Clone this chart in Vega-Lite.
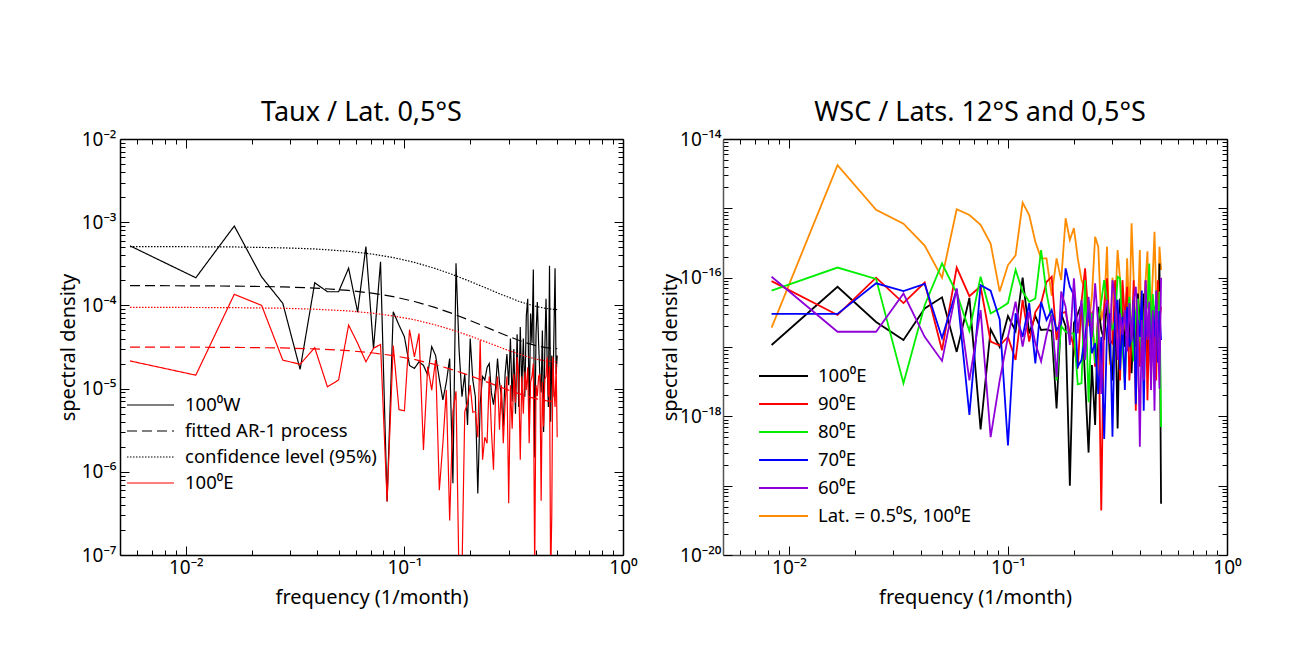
{
  "$schema": "https://vega.github.io/schema/vega-lite/v6.json",
  "background": "white",
  "padding": {"left": 58, "top": 99, "right": 5, "bottom": 5},
  "spacing": 100,
  "bounds": "flush",
  "config": {
    "font": "Noto Sans",
    "view": {"stroke": null},
    "axis": {"labelFont": "Noto Sans", "titleFont": "Noto Sans", "labelColor": "black", "titleColor": "black", "titleFontWeight": "normal", "grid": false, "domainColor": "black", "domainWidth": 1.5, "tickColor": "black", "tickWidth": 1, "labelFontSize": 19, "titleFontSize": 20, "labelFlush": false, "labelOverlap": false, "labelBound": false},
    "legend": {"labelFont": "Noto Sans", "labelColor": "black"},
    "title": {"font": "Noto Sans", "fontWeight": "normal", "color": "black", "fontSize": 27}
  },
  "datasets": {
    "left": [
      {"s":"100⁰W","f":0.005556,"v":5.2e-4},{"s":"100⁰W","f":0.011111,"v":2.15e-4},{"s":"100⁰W","f":0.016667,"v":9.0e-4},{"s":"100⁰W","f":0.022222,"v":2.2e-4},{"s":"100⁰W","f":0.027778,"v":1.06e-4},{"s":"100⁰W","f":0.033333,"v":1.7e-5},{"s":"100⁰W","f":0.038889,"v":1.87e-4},{"s":"100⁰W","f":0.044444,"v":1.46e-4},{"s":"100⁰W","f":0.05,"v":1.46e-4},{"s":"100⁰W","f":0.055556,"v":2.8e-4},
      {"s":"100⁰W","f":0.061111,"v":8.3e-5},{"s":"100⁰W","f":0.066667,"v":5.1e-4},{"s":"100⁰W","f":0.072222,"v":3.0e-5},{"s":"100⁰W","f":0.077778,"v":3.35e-4},{"s":"100⁰W","f":0.083333,"v":4.4e-7},{"s":"100⁰W","f":0.088889,"v":8.4e-5},{"s":"100⁰W","f":0.094444,"v":5.8e-5},{"s":"100⁰W","f":0.1,"v":4.2e-5},{"s":"100⁰W","f":0.105556,"v":1.9e-5},{"s":"100⁰W","f":0.111111,"v":1.75e-5},
      {"s":"100⁰W","f":0.116667,"v":2.1e-5},{"s":"100⁰W","f":0.122222,"v":1.9e-5},{"s":"100⁰W","f":0.127778,"v":1.46e-5},{"s":"100⁰W","f":0.133333,"v":3.2e-5},{"s":"100⁰W","f":0.138889,"v":2.5e-5},{"s":"100⁰W","f":0.144444,"v":1.3e-5},{"s":"100⁰W","f":0.15,"v":7.3e-6},{"s":"100⁰W","f":0.155556,"v":1.2e-5},{"s":"100⁰W","f":0.161111,"v":2.3e-5},{"s":"100⁰W","f":0.166667,"v":7.3e-7},
      {"s":"100⁰W","f":0.172222,"v":3.2e-4},{"s":"100⁰W","f":0.177778,"v":3.0e-5},{"s":"100⁰W","f":0.183333,"v":8e-6},{"s":"100⁰W","f":0.188889,"v":1.5e-5},{"s":"100⁰W","f":0.194444,"v":3.65e-6},{"s":"100⁰W","f":0.2,"v":4.0e-5},{"s":"100⁰W","f":0.205556,"v":1.27e-5},{"s":"100⁰W","f":0.211111,"v":8e-6},{"s":"100⁰W","f":0.216667,"v":5.5e-7},{"s":"100⁰W","f":0.222222,"v":6.7e-6},
      {"s":"100⁰W","f":0.227778,"v":1.4e-5},{"s":"100⁰W","f":0.233333,"v":1.27e-5},{"s":"100⁰W","f":0.238889,"v":1.8e-5},{"s":"100⁰W","f":0.244444,"v":2.0e-5},{"s":"100⁰W","f":0.25,"v":9e-6},{"s":"100⁰W","f":0.255556,"v":6.4e-6},{"s":"100⁰W","f":0.261111,"v":1.0e-5},{"s":"100⁰W","f":0.266667,"v":2.3e-5},{"s":"100⁰W","f":0.272222,"v":1.2e-5},{"s":"100⁰W","f":0.277778,"v":8e-6},
      {"s":"100⁰W","f":0.283333,"v":3.5e-6},{"s":"100⁰W","f":0.288889,"v":1.5e-5},{"s":"100⁰W","f":0.294444,"v":2.6e-5},{"s":"100⁰W","f":0.3,"v":1.1e-5},{"s":"100⁰W","f":0.305556,"v":4e-5},{"s":"100⁰W","f":0.311111,"v":7e-6},{"s":"100⁰W","f":0.316667,"v":3.0e-5},{"s":"100⁰W","f":0.322222,"v":5e-6},{"s":"100⁰W","f":0.327778,"v":4.5e-5},{"s":"100⁰W","f":0.333333,"v":6e-6},
      {"s":"100⁰W","f":0.338889,"v":5.5e-5},{"s":"100⁰W","f":0.344444,"v":1.0e-5},{"s":"100⁰W","f":0.35,"v":4.0e-5},{"s":"100⁰W","f":0.355556,"v":8e-6},{"s":"100⁰W","f":0.361111,"v":7.5e-5},{"s":"100⁰W","f":0.366667,"v":1.2e-4},{"s":"100⁰W","f":0.372222,"v":5e-6},{"s":"100⁰W","f":0.377778,"v":8e-5},{"s":"100⁰W","f":0.383333,"v":3.5e-5},{"s":"100⁰W","f":0.388889,"v":2.7e-4},
      {"s":"100⁰W","f":0.394444,"v":1.5e-6},{"s":"100⁰W","f":0.4,"v":4.5e-5},{"s":"100⁰W","f":0.405556,"v":1.1e-4},{"s":"100⁰W","f":0.411111,"v":3.5e-5},{"s":"100⁰W","f":0.416667,"v":1.4e-5},{"s":"100⁰W","f":0.422222,"v":9e-6},{"s":"100⁰W","f":0.427778,"v":5e-5},{"s":"100⁰W","f":0.433333,"v":3e-6},{"s":"100⁰W","f":0.438889,"v":3.0e-5},{"s":"100⁰W","f":0.444444,"v":1.2e-4},
      {"s":"100⁰W","f":0.45,"v":2e-5},{"s":"100⁰W","f":0.455556,"v":6e-6},{"s":"100⁰W","f":0.461111,"v":3.0e-4},{"s":"100⁰W","f":0.466667,"v":4e-6},{"s":"100⁰W","f":0.472222,"v":2.5e-5},{"s":"100⁰W","f":0.477778,"v":8e-6},{"s":"100⁰W","f":0.483333,"v":5e-5},{"s":"100⁰W","f":0.488889,"v":2.8e-4},{"s":"100⁰W","f":0.494444,"v":1.5e-5},{"s":"100⁰W","f":0.5,"v":2.5e-5},

      {"s":"fitted AR-1 process","f":0.005556,"v":1.727e-4},{"s":"fitted AR-1 process","f":0.011111,"v":1.72e-4},{"s":"fitted AR-1 process","f":0.016667,"v":1.707e-4},{"s":"fitted AR-1 process","f":0.027778,"v":1.669e-4},{"s":"fitted AR-1 process","f":0.038889,"v":1.616e-4},{"s":"fitted AR-1 process","f":0.055556,"v":1.514e-4},{"s":"fitted AR-1 process","f":0.072222,"v":1.396e-4},{"s":"fitted AR-1 process","f":0.088889,"v":1.274e-4},{"s":"fitted AR-1 process","f":0.111111,"v":1.115e-4},{"s":"fitted AR-1 process","f":0.138889,"v":9.39e-5},{"s":"fitted AR-1 process","f":0.166667,"v":7.94e-5},{"s":"fitted AR-1 process","f":0.194444,"v":6.78e-5},{"s":"fitted AR-1 process","f":0.222222,"v":5.87e-5},{"s":"fitted AR-1 process","f":0.25,"v":5.15e-5},{"s":"fitted AR-1 process","f":0.277778,"v":4.59e-5},{"s":"fitted AR-1 process","f":0.305556,"v":4.16e-5},{"s":"fitted AR-1 process","f":0.333333,"v":3.81e-5},{"s":"fitted AR-1 process","f":0.361111,"v":3.55e-5},{"s":"fitted AR-1 process","f":0.388889,"v":3.35e-5},{"s":"fitted AR-1 process","f":0.416667,"v":3.21e-5},{"s":"fitted AR-1 process","f":0.444444,"v":3.11e-5},{"s":"fitted AR-1 process","f":0.472222,"v":3.05e-5},{"s":"fitted AR-1 process","f":0.5,"v":3.03e-5},

      {"s":"confidence level (95%)","f":0.005556,"v":5.09e-4},{"s":"confidence level (95%)","f":0.011111,"v":5.07e-4},{"s":"confidence level (95%)","f":0.016667,"v":5.04e-4},{"s":"confidence level (95%)","f":0.027778,"v":4.92e-4},{"s":"confidence level (95%)","f":0.038889,"v":4.77e-4},{"s":"confidence level (95%)","f":0.055556,"v":4.47e-4},{"s":"confidence level (95%)","f":0.072222,"v":4.12e-4},{"s":"confidence level (95%)","f":0.088889,"v":3.76e-4},{"s":"confidence level (95%)","f":0.111111,"v":3.29e-4},{"s":"confidence level (95%)","f":0.138889,"v":2.77e-4},{"s":"confidence level (95%)","f":0.166667,"v":2.34e-4},{"s":"confidence level (95%)","f":0.194444,"v":2.0e-4},{"s":"confidence level (95%)","f":0.222222,"v":1.73e-4},{"s":"confidence level (95%)","f":0.25,"v":1.52e-4},{"s":"confidence level (95%)","f":0.277778,"v":1.35e-4},{"s":"confidence level (95%)","f":0.305556,"v":1.23e-4},{"s":"confidence level (95%)","f":0.333333,"v":1.12e-4},{"s":"confidence level (95%)","f":0.361111,"v":1.05e-4},{"s":"confidence level (95%)","f":0.388889,"v":9.9e-5},{"s":"confidence level (95%)","f":0.416667,"v":9.5e-5},{"s":"confidence level (95%)","f":0.444444,"v":9.2e-5},{"s":"confidence level (95%)","f":0.472222,"v":9.0e-5},{"s":"confidence level (95%)","f":0.5,"v":8.9e-5},

      {"s":"\u00a0100⁰E","f":0.005556,"v":2.15e-5},{"s":"\u00a0100⁰E","f":0.011111,"v":1.45e-5},{"s":"\u00a0100⁰E","f":0.016667,"v":1.36e-4},{"s":"\u00a0100⁰E","f":0.022222,"v":1.0e-4},{"s":"\u00a0100⁰E","f":0.027778,"v":2.2e-5},{"s":"\u00a0100⁰E","f":0.033333,"v":1.96e-5},{"s":"\u00a0100⁰E","f":0.038889,"v":3.1e-5},{"s":"\u00a0100⁰E","f":0.044444,"v":1.05e-5},{"s":"\u00a0100⁰E","f":0.05,"v":1.27e-5},{"s":"\u00a0100⁰E","f":0.055556,"v":5.8e-5},
      {"s":"\u00a0100⁰E","f":0.061111,"v":3.5e-5},{"s":"\u00a0100⁰E","f":0.066667,"v":2.1e-5},{"s":"\u00a0100⁰E","f":0.072222,"v":3.05e-5},{"s":"\u00a0100⁰E","f":0.077778,"v":3.4e-5},{"s":"\u00a0100⁰E","f":0.083333,"v":4.4e-7},{"s":"\u00a0100⁰E","f":0.088889,"v":3.3e-5},{"s":"\u00a0100⁰E","f":0.094444,"v":5.6e-6},{"s":"\u00a0100⁰E","f":0.1,"v":5.4e-6},{"s":"\u00a0100⁰E","f":0.105556,"v":5.1e-5},{"s":"\u00a0100⁰E","f":0.111111,"v":2.4e-5},
      {"s":"\u00a0100⁰E","f":0.116667,"v":4.6e-5},{"s":"\u00a0100⁰E","f":0.122222,"v":1.83e-6},{"s":"\u00a0100⁰E","f":0.127778,"v":1.84e-5},{"s":"\u00a0100⁰E","f":0.133333,"v":9.6e-6},{"s":"\u00a0100⁰E","f":0.138889,"v":2.2e-5},{"s":"\u00a0100⁰E","f":0.144444,"v":6.0e-7},{"s":"\u00a0100⁰E","f":0.15,"v":2.2e-6},{"s":"\u00a0100⁰E","f":0.155556,"v":9.6e-6},{"s":"\u00a0100⁰E","f":0.161111,"v":2.6e-7},{"s":"\u00a0100⁰E","f":0.166667,"v":5.3e-6},
      {"s":"\u00a0100⁰E","f":0.172222,"v":9.3e-6},{"s":"\u00a0100⁰E","f":0.177778,"v":5e-8},{"s":"\u00a0100⁰E","f":0.183333,"v":6e-8},{"s":"\u00a0100⁰E","f":0.188889,"v":5.3e-6},{"s":"\u00a0100⁰E","f":0.194444,"v":6.7e-6},{"s":"\u00a0100⁰E","f":0.2,"v":1.1e-5},{"s":"\u00a0100⁰E","f":0.205556,"v":5.2e-6},{"s":"\u00a0100⁰E","f":0.211111,"v":5.3e-6},{"s":"\u00a0100⁰E","f":0.216667,"v":2.6e-6},{"s":"\u00a0100⁰E","f":0.222222,"v":3.8e-5},
      {"s":"\u00a0100⁰E","f":0.227778,"v":1.4e-6},{"s":"\u00a0100⁰E","f":0.233333,"v":2.6e-6},{"s":"\u00a0100⁰E","f":0.238889,"v":2.2e-6},{"s":"\u00a0100⁰E","f":0.244444,"v":1.4e-5},{"s":"\u00a0100⁰E","f":0.25,"v":3.2e-6},{"s":"\u00a0100⁰E","f":0.255556,"v":1.06e-6},{"s":"\u00a0100⁰E","f":0.261111,"v":8.1e-6},{"s":"\u00a0100⁰E","f":0.266667,"v":1.4e-5},{"s":"\u00a0100⁰E","f":0.272222,"v":3.2e-6},{"s":"\u00a0100⁰E","f":0.277778,"v":1.1e-5},
      {"s":"\u00a0100⁰E","f":0.283333,"v":2.2e-6},{"s":"\u00a0100⁰E","f":0.288889,"v":6.7e-6},{"s":"\u00a0100⁰E","f":0.294444,"v":1.4e-5},{"s":"\u00a0100⁰E","f":0.3,"v":4.2e-7},{"s":"\u00a0100⁰E","f":0.305556,"v":1.1e-5},{"s":"\u00a0100⁰E","f":0.311111,"v":3.3e-6},{"s":"\u00a0100⁰E","f":0.316667,"v":1.5e-5},{"s":"\u00a0100⁰E","f":0.322222,"v":6.7e-6},{"s":"\u00a0100⁰E","f":0.327778,"v":2.4e-5},{"s":"\u00a0100⁰E","f":0.333333,"v":1.4e-5},
      {"s":"\u00a0100⁰E","f":0.338889,"v":1.4e-6},{"s":"\u00a0100⁰E","f":0.344444,"v":1.4e-5},{"s":"\u00a0100⁰E","f":0.35,"v":5e-6},{"s":"\u00a0100⁰E","f":0.355556,"v":1.6e-5},{"s":"\u00a0100⁰E","f":0.361111,"v":9.6e-6},{"s":"\u00a0100⁰E","f":0.366667,"v":1.8e-5},{"s":"\u00a0100⁰E","f":0.372222,"v":2.2e-6},{"s":"\u00a0100⁰E","f":0.377778,"v":1.2e-5},{"s":"\u00a0100⁰E","f":0.383333,"v":1.4e-5},{"s":"\u00a0100⁰E","f":0.388889,"v":2.0e-5},
      {"s":"\u00a0100⁰E","f":0.394444,"v":6e-8},{"s":"\u00a0100⁰E","f":0.4,"v":1.1e-5},{"s":"\u00a0100⁰E","f":0.405556,"v":8.1e-6},{"s":"\u00a0100⁰E","f":0.411111,"v":1.4e-5},{"s":"\u00a0100⁰E","f":0.416667,"v":1.5e-5},{"s":"\u00a0100⁰E","f":0.422222,"v":4.5e-7},{"s":"\u00a0100⁰E","f":0.427778,"v":1.2e-5},{"s":"\u00a0100⁰E","f":0.433333,"v":3.5e-6},{"s":"\u00a0100⁰E","f":0.438889,"v":1.3e-5},{"s":"\u00a0100⁰E","f":0.444444,"v":1.4e-5},
      {"s":"\u00a0100⁰E","f":0.45,"v":2.4e-5},{"s":"\u00a0100⁰E","f":0.455556,"v":8e-6},{"s":"\u00a0100⁰E","f":0.461111,"v":1.84e-5},{"s":"\u00a0100⁰E","f":0.466667,"v":5e-8},{"s":"\u00a0100⁰E","f":0.472222,"v":3e-7},{"s":"\u00a0100⁰E","f":0.477778,"v":2.4e-5},{"s":"\u00a0100⁰E","f":0.483333,"v":1.0e-5},{"s":"\u00a0100⁰E","f":0.488889,"v":6e-6},{"s":"\u00a0100⁰E","f":0.494444,"v":2.0e-5},{"s":"\u00a0100⁰E","f":0.5,"v":2.6e-6},

      {"s":"AR-1 (100⁰E)","f":0.005556,"v":3.156e-5},{"s":"AR-1 (100⁰E)","f":0.011111,"v":3.145e-5},{"s":"AR-1 (100⁰E)","f":0.016667,"v":3.13e-5},{"s":"AR-1 (100⁰E)","f":0.027778,"v":3.08e-5},{"s":"AR-1 (100⁰E)","f":0.038889,"v":3.0e-5},{"s":"AR-1 (100⁰E)","f":0.055556,"v":2.86e-5},{"s":"AR-1 (100⁰E)","f":0.072222,"v":2.68e-5},{"s":"AR-1 (100⁰E)","f":0.088889,"v":2.49e-5},{"s":"AR-1 (100⁰E)","f":0.111111,"v":2.24e-5},{"s":"AR-1 (100⁰E)","f":0.138889,"v":1.94e-5},{"s":"AR-1 (100⁰E)","f":0.166667,"v":1.68e-5},{"s":"AR-1 (100⁰E)","f":0.194444,"v":1.465e-5},{"s":"AR-1 (100⁰E)","f":0.222222,"v":1.288e-5},{"s":"AR-1 (100⁰E)","f":0.25,"v":1.146e-5},{"s":"AR-1 (100⁰E)","f":0.277778,"v":1.031e-5},{"s":"AR-1 (100⁰E)","f":0.305556,"v":9.4e-6},{"s":"AR-1 (100⁰E)","f":0.333333,"v":8.69e-6},{"s":"AR-1 (100⁰E)","f":0.361111,"v":8.13e-6},{"s":"AR-1 (100⁰E)","f":0.388889,"v":7.7e-6},{"s":"AR-1 (100⁰E)","f":0.416667,"v":7.38e-6},{"s":"AR-1 (100⁰E)","f":0.444444,"v":7.16e-6},{"s":"AR-1 (100⁰E)","f":0.472222,"v":7.04e-6},{"s":"AR-1 (100⁰E)","f":0.5,"v":7.0e-6},

      {"s":"CL (100⁰E)","f":0.005556,"v":9.47e-5},{"s":"CL (100⁰E)","f":0.011111,"v":9.44e-5},{"s":"CL (100⁰E)","f":0.016667,"v":9.39e-5},{"s":"CL (100⁰E)","f":0.027778,"v":9.24e-5},{"s":"CL (100⁰E)","f":0.038889,"v":9.0e-5},{"s":"CL (100⁰E)","f":0.055556,"v":8.58e-5},{"s":"CL (100⁰E)","f":0.072222,"v":8.04e-5},{"s":"CL (100⁰E)","f":0.088889,"v":7.47e-5},{"s":"CL (100⁰E)","f":0.111111,"v":6.72e-5},{"s":"CL (100⁰E)","f":0.138889,"v":5.82e-5},{"s":"CL (100⁰E)","f":0.166667,"v":5.04e-5},{"s":"CL (100⁰E)","f":0.194444,"v":4.4e-5},{"s":"CL (100⁰E)","f":0.222222,"v":3.86e-5},{"s":"CL (100⁰E)","f":0.25,"v":3.44e-5},{"s":"CL (100⁰E)","f":0.277778,"v":3.09e-5},{"s":"CL (100⁰E)","f":0.305556,"v":2.82e-5},{"s":"CL (100⁰E)","f":0.333333,"v":2.61e-5},{"s":"CL (100⁰E)","f":0.361111,"v":2.44e-5},{"s":"CL (100⁰E)","f":0.388889,"v":2.31e-5},{"s":"CL (100⁰E)","f":0.416667,"v":2.21e-5},{"s":"CL (100⁰E)","f":0.444444,"v":2.15e-5},{"s":"CL (100⁰E)","f":0.472222,"v":2.11e-5},{"s":"CL (100⁰E)","f":0.5,"v":2.1e-5}
    ],
    "right": [
      {"s":"Lat. = 0.5⁰S, 100⁰E","f":0.008333,"v":1.9e-17},{"s":"Lat. = 0.5⁰S, 100⁰E","f":0.016667,"v":4.2e-15},{"s":"Lat. = 0.5⁰S, 100⁰E","f":0.025,"v":9.5e-16},{"s":"Lat. = 0.5⁰S, 100⁰E","f":0.033333,"v":6.0e-16},{"s":"Lat. = 0.5⁰S, 100⁰E","f":0.041667,"v":2.9e-16},{"s":"Lat. = 0.5⁰S, 100⁰E","f":0.05,"v":1.0e-16},{"s":"Lat. = 0.5⁰S, 100⁰E","f":0.058333,"v":9.7e-16},{"s":"Lat. = 0.5⁰S, 100⁰E","f":0.066667,"v":8.0e-16},{"s":"Lat. = 0.5⁰S, 100⁰E","f":0.075,"v":5.8e-16},{"s":"Lat. = 0.5⁰S, 100⁰E","f":0.083333,"v":3.1e-16},
      {"s":"Lat. = 0.5⁰S, 100⁰E","f":0.091667,"v":6.3e-17},{"s":"Lat. = 0.5⁰S, 100⁰E","f":0.1,"v":1.52e-16},{"s":"Lat. = 0.5⁰S, 100⁰E","f":0.108333,"v":2.1e-16},{"s":"Lat. = 0.5⁰S, 100⁰E","f":0.116667,"v":1.21e-15},{"s":"Lat. = 0.5⁰S, 100⁰E","f":0.125,"v":8.0e-16},{"s":"Lat. = 0.5⁰S, 100⁰E","f":0.133333,"v":3.3e-16},{"s":"Lat. = 0.5⁰S, 100⁰E","f":0.141667,"v":1.9e-16},{"s":"Lat. = 0.5⁰S, 100⁰E","f":0.15,"v":1.9e-16},{"s":"Lat. = 0.5⁰S, 100⁰E","f":0.158333,"v":5.5e-17},{"s":"Lat. = 0.5⁰S, 100⁰E","f":0.166667,"v":1.9e-16},
      {"s":"Lat. = 0.5⁰S, 100⁰E","f":0.175,"v":9.2e-17},{"s":"Lat. = 0.5⁰S, 100⁰E","f":0.183333,"v":7.2e-16},{"s":"Lat. = 0.5⁰S, 100⁰E","f":0.191667,"v":3.5e-16},{"s":"Lat. = 0.5⁰S, 100⁰E","f":0.2,"v":5.2e-16},{"s":"Lat. = 0.5⁰S, 100⁰E","f":0.208333,"v":1.9e-16},{"s":"Lat. = 0.5⁰S, 100⁰E","f":0.216667,"v":9.2e-17},{"s":"Lat. = 0.5⁰S, 100⁰E","f":0.225,"v":7.0e-17},{"s":"Lat. = 0.5⁰S, 100⁰E","f":0.233333,"v":2.0e-17},{"s":"Lat. = 0.5⁰S, 100⁰E","f":0.241667,"v":5.3e-17},{"s":"Lat. = 0.5⁰S, 100⁰E","f":0.25,"v":3.9e-16},
      {"s":"Lat. = 0.5⁰S, 100⁰E","f":0.258333,"v":2.8e-16},{"s":"Lat. = 0.5⁰S, 100⁰E","f":0.266667,"v":2.4e-17},{"s":"Lat. = 0.5⁰S, 100⁰E","f":0.275,"v":3.8e-17},{"s":"Lat. = 0.5⁰S, 100⁰E","f":0.283333,"v":2.8e-16},{"s":"Lat. = 0.5⁰S, 100⁰E","f":0.291667,"v":5.5e-18},{"s":"Lat. = 0.5⁰S, 100⁰E","f":0.3,"v":1.0e-16},{"s":"Lat. = 0.5⁰S, 100⁰E","f":0.308333,"v":3.8e-17},{"s":"Lat. = 0.5⁰S, 100⁰E","f":0.316667,"v":2.5e-16},{"s":"Lat. = 0.5⁰S, 100⁰E","f":0.325,"v":9.2e-17},{"s":"Lat. = 0.5⁰S, 100⁰E","f":0.333333,"v":3.8e-17},
      {"s":"Lat. = 0.5⁰S, 100⁰E","f":0.341667,"v":1.1e-17},{"s":"Lat. = 0.5⁰S, 100⁰E","f":0.35,"v":1.9e-16},{"s":"Lat. = 0.5⁰S, 100⁰E","f":0.358333,"v":2.4e-17},{"s":"Lat. = 0.5⁰S, 100⁰E","f":0.366667,"v":6.1e-16},{"s":"Lat. = 0.5⁰S, 100⁰E","f":0.375,"v":9.2e-17},{"s":"Lat. = 0.5⁰S, 100⁰E","f":0.383333,"v":1.3e-17},{"s":"Lat. = 0.5⁰S, 100⁰E","f":0.391667,"v":3.06e-17},{"s":"Lat. = 0.5⁰S, 100⁰E","f":0.4,"v":2.5e-16},{"s":"Lat. = 0.5⁰S, 100⁰E","f":0.408333,"v":6.5e-18},{"s":"Lat. = 0.5⁰S, 100⁰E","f":0.416667,"v":2.0e-17},
      {"s":"Lat. = 0.5⁰S, 100⁰E","f":0.425,"v":9.2e-17},{"s":"Lat. = 0.5⁰S, 100⁰E","f":0.433333,"v":2.4e-16},{"s":"Lat. = 0.5⁰S, 100⁰E","f":0.441667,"v":1.26e-17},{"s":"Lat. = 0.5⁰S, 100⁰E","f":0.45,"v":3.06e-17},{"s":"Lat. = 0.5⁰S, 100⁰E","f":0.458333,"v":1.1e-16},{"s":"Lat. = 0.5⁰S, 100⁰E","f":0.466667,"v":4.6e-16},{"s":"Lat. = 0.5⁰S, 100⁰E","f":0.475,"v":5.3e-17},{"s":"Lat. = 0.5⁰S, 100⁰E","f":0.483333,"v":2.0e-17},{"s":"Lat. = 0.5⁰S, 100⁰E","f":0.491667,"v":2.8e-16},{"s":"Lat. = 0.5⁰S, 100⁰E","f":0.5,"v":1.29e-16},

      {"s":"100⁰E","f":0.008333,"v":1.07e-17},{"s":"100⁰E","f":0.016667,"v":7.4e-17},{"s":"100⁰E","f":0.025,"v":2.3e-17},{"s":"100⁰E","f":0.033333,"v":1.26e-17},{"s":"100⁰E","f":0.041667,"v":3.6e-17},{"s":"100⁰E","f":0.05,"v":5.2e-17},{"s":"100⁰E","f":0.058333,"v":8.5e-18},{"s":"100⁰E","f":0.066667,"v":5.1e-17},{"s":"100⁰E","f":0.075,"v":6.5e-19},{"s":"100⁰E","f":0.083333,"v":1.8e-17},
      {"s":"100⁰E","f":0.091667,"v":1.0e-17},{"s":"100⁰E","f":0.1,"v":2.8e-17},{"s":"100⁰E","f":0.108333,"v":1.7e-17},{"s":"100⁰E","f":0.116667,"v":1.0e-16},{"s":"100⁰E","f":0.125,"v":1.57e-17},{"s":"100⁰E","f":0.133333,"v":2.8e-17},{"s":"100⁰E","f":0.141667,"v":1.76e-17},{"s":"100⁰E","f":0.15,"v":1.8e-17},{"s":"100⁰E","f":0.158333,"v":1.7e-17},{"s":"100⁰E","f":0.166667,"v":1.3e-18},
      {"s":"100⁰E","f":0.175,"v":3.0e-17},{"s":"100⁰E","f":0.183333,"v":2.0e-17},{"s":"100⁰E","f":0.191667,"v":1.0e-19},{"s":"100⁰E","f":0.2,"v":2.2e-17},{"s":"100⁰E","f":0.208333,"v":3.0e-17},{"s":"100⁰E","f":0.216667,"v":4.2e-17},{"s":"100⁰E","f":0.225,"v":3.3e-18},{"s":"100⁰E","f":0.233333,"v":3.0e-19},{"s":"100⁰E","f":0.241667,"v":5.5e-18},{"s":"100⁰E","f":0.25,"v":7.5e-19},
      {"s":"100⁰E","f":0.258333,"v":3.8e-17},{"s":"100⁰E","f":0.266667,"v":1.76e-17},{"s":"100⁰E","f":0.275,"v":1.26e-17},{"s":"100⁰E","f":0.283333,"v":4.8e-17},{"s":"100⁰E","f":0.291667,"v":8.1e-18},{"s":"100⁰E","f":0.3,"v":3.3e-18},{"s":"100⁰E","f":0.308333,"v":4.8e-17},{"s":"100⁰E","f":0.316667,"v":6.7e-19},{"s":"100⁰E","f":0.325,"v":5.0e-17},{"s":"100⁰E","f":0.333333,"v":3.06e-17},
      {"s":"100⁰E","f":0.341667,"v":1.01e-17},{"s":"100⁰E","f":0.35,"v":3.8e-17},{"s":"100⁰E","f":0.358333,"v":2.0e-17},{"s":"100⁰E","f":0.366667,"v":4.2e-18},{"s":"100⁰E","f":0.375,"v":2.45e-17},{"s":"100⁰E","f":0.383333,"v":1.01e-17},{"s":"100⁰E","f":0.391667,"v":5.9e-17},{"s":"100⁰E","f":0.4,"v":2.45e-17},{"s":"100⁰E","f":0.408333,"v":1.01e-17},{"s":"100⁰E","f":0.416667,"v":5.9e-17},
      {"s":"100⁰E","f":0.425,"v":2.45e-17},{"s":"100⁰E","f":0.433333,"v":5.2e-18},{"s":"100⁰E","f":0.441667,"v":3.8e-17},{"s":"100⁰E","f":0.45,"v":1.76e-17},{"s":"100⁰E","f":0.458333,"v":1.01e-17},{"s":"100⁰E","f":0.466667,"v":3.8e-17},{"s":"100⁰E","f":0.475,"v":2.0e-17},{"s":"100⁰E","f":0.483333,"v":8.1e-18},{"s":"100⁰E","f":0.491667,"v":1.6e-16},{"s":"100⁰E","f":0.5,"v":5.5e-20},

      {"s":"\u00a090⁰E","f":0.008333,"v":8.9e-17},{"s":"\u00a090⁰E","f":0.016667,"v":2.9e-17},{"s":"\u00a090⁰E","f":0.025,"v":1.0e-16},{"s":"\u00a090⁰E","f":0.033333,"v":4.3e-17},{"s":"\u00a090⁰E","f":0.041667,"v":8.5e-17},{"s":"\u00a090⁰E","f":0.05,"v":9e-18},{"s":"\u00a090⁰E","f":0.058333,"v":1.4e-16},{"s":"\u00a090⁰E","f":0.066667,"v":5.4e-17},{"s":"\u00a090⁰E","f":0.075,"v":7.5e-17},{"s":"\u00a090⁰E","f":0.083333,"v":1.2e-17},
      {"s":"\u00a090⁰E","f":0.091667,"v":1.05e-17},{"s":"\u00a090⁰E","f":0.1,"v":1.4e-17},{"s":"\u00a090⁰E","f":0.108333,"v":6.5e-18},{"s":"\u00a090⁰E","f":0.116667,"v":4.8e-17},{"s":"\u00a090⁰E","f":0.125,"v":1.2e-17},{"s":"\u00a090⁰E","f":0.133333,"v":3.2e-17},{"s":"\u00a090⁰E","f":0.141667,"v":4.3e-17},{"s":"\u00a090⁰E","f":0.15,"v":8.7e-17},{"s":"\u00a090⁰E","f":0.158333,"v":1.03e-16},{"s":"\u00a090⁰E","f":0.166667,"v":1.26e-17},
      {"s":"\u00a090⁰E","f":0.175,"v":3.06e-17},{"s":"\u00a090⁰E","f":0.183333,"v":3.2e-17},{"s":"\u00a090⁰E","f":0.191667,"v":1.57e-17},{"s":"\u00a090⁰E","f":0.2,"v":1.01e-17},{"s":"\u00a090⁰E","f":0.208333,"v":4.9e-18},{"s":"\u00a090⁰E","f":0.216667,"v":4.5e-17},{"s":"\u00a090⁰E","f":0.225,"v":1.36e-16},{"s":"\u00a090⁰E","f":0.233333,"v":2.45e-17},{"s":"\u00a090⁰E","f":0.241667,"v":3.06e-17},{"s":"\u00a090⁰E","f":0.25,"v":5.2e-18},
      {"s":"\u00a090⁰E","f":0.258333,"v":3.06e-17},{"s":"\u00a090⁰E","f":0.266667,"v":4.4e-20},{"s":"\u00a090⁰E","f":0.275,"v":3.8e-17},{"s":"\u00a090⁰E","f":0.283333,"v":9.8e-17},{"s":"\u00a090⁰E","f":0.291667,"v":1.26e-17},{"s":"\u00a090⁰E","f":0.3,"v":1.13e-17},{"s":"\u00a090⁰E","f":0.308333,"v":9.2e-17},{"s":"\u00a090⁰E","f":0.316667,"v":2.2e-17},{"s":"\u00a090⁰E","f":0.325,"v":3.3e-18},{"s":"\u00a090⁰E","f":0.333333,"v":9.2e-17},
      {"s":"\u00a090⁰E","f":0.341667,"v":2.45e-17},{"s":"\u00a090⁰E","f":0.35,"v":7.4e-17},{"s":"\u00a090⁰E","f":0.358333,"v":3.3e-18},{"s":"\u00a090⁰E","f":0.366667,"v":1.26e-17},{"s":"\u00a090⁰E","f":0.375,"v":9.2e-17},{"s":"\u00a090⁰E","f":0.383333,"v":1.2e-18},{"s":"\u00a090⁰E","f":0.391667,"v":3.8e-17},{"s":"\u00a090⁰E","f":0.4,"v":5.2e-18},{"s":"\u00a090⁰E","f":0.408333,"v":3.4e-17},{"s":"\u00a090⁰E","f":0.416667,"v":1.26e-17},
      {"s":"\u00a090⁰E","f":0.425,"v":9.2e-17},{"s":"\u00a090⁰E","f":0.433333,"v":1.7e-18},{"s":"\u00a090⁰E","f":0.441667,"v":2.45e-17},{"s":"\u00a090⁰E","f":0.45,"v":3.7e-18},{"s":"\u00a090⁰E","f":0.458333,"v":3.8e-17},{"s":"\u00a090⁰E","f":0.466667,"v":1.57e-17},{"s":"\u00a090⁰E","f":0.475,"v":3.3e-18},{"s":"\u00a090⁰E","f":0.483333,"v":9.2e-17},{"s":"\u00a090⁰E","f":0.491667,"v":2.45e-17},{"s":"\u00a090⁰E","f":0.5,"v":3.8e-17},

      {"s":"\u00a080⁰E","f":0.008333,"v":6.5e-17},{"s":"\u00a080⁰E","f":0.016667,"v":1.4e-16},{"s":"\u00a080⁰E","f":0.025,"v":9.6e-17},{"s":"\u00a080⁰E","f":0.033333,"v":3.0e-18},{"s":"\u00a080⁰E","f":0.041667,"v":4.0e-17},{"s":"\u00a080⁰E","f":0.05,"v":1.6e-16},{"s":"\u00a080⁰E","f":0.058333,"v":6.0e-17},{"s":"\u00a080⁰E","f":0.066667,"v":1.7e-17},{"s":"\u00a080⁰E","f":0.075,"v":1.03e-16},{"s":"\u00a080⁰E","f":0.083333,"v":3.06e-17},
      {"s":"\u00a080⁰E","f":0.091667,"v":3.6e-17},{"s":"\u00a080⁰E","f":0.1,"v":4.3e-17},{"s":"\u00a080⁰E","f":0.108333,"v":1.3e-16},{"s":"\u00a080⁰E","f":0.116667,"v":6.3e-17},{"s":"\u00a080⁰E","f":0.125,"v":4.5e-17},{"s":"\u00a080⁰E","f":0.133333,"v":5.0e-17},{"s":"\u00a080⁰E","f":0.141667,"v":2.5e-16},{"s":"\u00a080⁰E","f":0.15,"v":6.0e-17},{"s":"\u00a080⁰E","f":0.158333,"v":2.45e-17},{"s":"\u00a080⁰E","f":0.166667,"v":3.3e-18},
      {"s":"\u00a080⁰E","f":0.175,"v":2.0e-17},{"s":"\u00a080⁰E","f":0.183333,"v":1.66e-17},{"s":"\u00a080⁰E","f":0.191667,"v":1.57e-17},{"s":"\u00a080⁰E","f":0.2,"v":1.57e-17},{"s":"\u00a080⁰E","f":0.208333,"v":2.9e-18},{"s":"\u00a080⁰E","f":0.216667,"v":3.0e-18},{"s":"\u00a080⁰E","f":0.225,"v":9.2e-17},{"s":"\u00a080⁰E","f":0.233333,"v":1.6e-18},{"s":"\u00a080⁰E","f":0.241667,"v":3.06e-17},{"s":"\u00a080⁰E","f":0.25,"v":5.8e-18},
      {"s":"\u00a080⁰E","f":0.258333,"v":2.45e-17},{"s":"\u00a080⁰E","f":0.266667,"v":4.5e-17},{"s":"\u00a080⁰E","f":0.275,"v":9.2e-17},{"s":"\u00a080⁰E","f":0.283333,"v":4.5e-17},{"s":"\u00a080⁰E","f":0.291667,"v":2.7e-17},{"s":"\u00a080⁰E","f":0.3,"v":1.76e-17},{"s":"\u00a080⁰E","f":0.308333,"v":2.45e-17},{"s":"\u00a080⁰E","f":0.316667,"v":1.03e-16},{"s":"\u00a080⁰E","f":0.325,"v":9.8e-17},{"s":"\u00a080⁰E","f":0.333333,"v":1.01e-17},
      {"s":"\u00a080⁰E","f":0.341667,"v":3.0e-18},{"s":"\u00a080⁰E","f":0.35,"v":2.45e-17},{"s":"\u00a080⁰E","f":0.358333,"v":5.3e-17},{"s":"\u00a080⁰E","f":0.366667,"v":1.76e-17},{"s":"\u00a080⁰E","f":0.375,"v":6.2e-18},{"s":"\u00a080⁰E","f":0.383333,"v":3.06e-17},{"s":"\u00a080⁰E","f":0.391667,"v":5.0e-17},{"s":"\u00a080⁰E","f":0.4,"v":1.49e-17},{"s":"\u00a080⁰E","f":0.408333,"v":8.1e-18},{"s":"\u00a080⁰E","f":0.416667,"v":2.0e-17},
      {"s":"\u00a080⁰E","f":0.425,"v":6.3e-17},{"s":"\u00a080⁰E","f":0.433333,"v":3.6e-17},{"s":"\u00a080⁰E","f":0.441667,"v":1.6e-16},{"s":"\u00a080⁰E","f":0.45,"v":1.49e-17},{"s":"\u00a080⁰E","f":0.458333,"v":5.8e-17},{"s":"\u00a080⁰E","f":0.466667,"v":2.0e-17},{"s":"\u00a080⁰E","f":0.475,"v":6.6e-17},{"s":"\u00a080⁰E","f":0.483333,"v":1.0e-17},{"s":"\u00a080⁰E","f":0.491667,"v":6.3e-17},{"s":"\u00a080⁰E","f":0.5,"v":7.0e-19},

      {"s":"\u00a070⁰E","f":0.008333,"v":3.0e-17},{"s":"\u00a070⁰E","f":0.016667,"v":3.0e-17},{"s":"\u00a070⁰E","f":0.025,"v":8.3e-17},{"s":"\u00a070⁰E","f":0.033333,"v":6.4e-17},{"s":"\u00a070⁰E","f":0.041667,"v":8.1e-17},{"s":"\u00a070⁰E","f":0.05,"v":1.35e-17},{"s":"\u00a070⁰E","f":0.058333,"v":6.8e-17},{"s":"\u00a070⁰E","f":0.066667,"v":1.05e-18},{"s":"\u00a070⁰E","f":0.075,"v":7.8e-17},{"s":"\u00a070⁰E","f":0.083333,"v":6.5e-17},
      {"s":"\u00a070⁰E","f":0.091667,"v":2.5e-17},{"s":"\u00a070⁰E","f":0.1,"v":3.8e-19},{"s":"\u00a070⁰E","f":0.108333,"v":3.06e-17},{"s":"\u00a070⁰E","f":0.116667,"v":1.4e-17},{"s":"\u00a070⁰E","f":0.125,"v":4.3e-17},{"s":"\u00a070⁰E","f":0.133333,"v":5.8e-18},{"s":"\u00a070⁰E","f":0.141667,"v":4.5e-17},{"s":"\u00a070⁰E","f":0.15,"v":2.45e-17},{"s":"\u00a070⁰E","f":0.158333,"v":3.4e-17},{"s":"\u00a070⁰E","f":0.166667,"v":1.76e-17},
      {"s":"\u00a070⁰E","f":0.175,"v":2.2e-17},{"s":"\u00a070⁰E","f":0.183333,"v":1.36e-16},{"s":"\u00a070⁰E","f":0.191667,"v":7.4e-17},{"s":"\u00a070⁰E","f":0.2,"v":5.6e-17},{"s":"\u00a070⁰E","f":0.208333,"v":5.2e-18},{"s":"\u00a070⁰E","f":0.216667,"v":6.5e-18},{"s":"\u00a070⁰E","f":0.225,"v":1.4e-17},{"s":"\u00a070⁰E","f":0.233333,"v":3.8e-17},{"s":"\u00a070⁰E","f":0.241667,"v":8.1e-18},{"s":"\u00a070⁰E","f":0.25,"v":1.13e-17},
      {"s":"\u00a070⁰E","f":0.258333,"v":2.1e-18},{"s":"\u00a070⁰E","f":0.266667,"v":1.4e-17},{"s":"\u00a070⁰E","f":0.275,"v":4.7e-19},{"s":"\u00a070⁰E","f":0.283333,"v":1.8e-17},{"s":"\u00a070⁰E","f":0.291667,"v":3.06e-17},{"s":"\u00a070⁰E","f":0.3,"v":5.1e-19},{"s":"\u00a070⁰E","f":0.308333,"v":3.06e-17},{"s":"\u00a070⁰E","f":0.316667,"v":4.8e-17},{"s":"\u00a070⁰E","f":0.325,"v":4.7e-18},{"s":"\u00a070⁰E","f":0.333333,"v":2.7e-17},
      {"s":"\u00a070⁰E","f":0.341667,"v":2.4e-18},{"s":"\u00a070⁰E","f":0.35,"v":3.8e-17},{"s":"\u00a070⁰E","f":0.358333,"v":1.01e-17},{"s":"\u00a070⁰E","f":0.366667,"v":1.4e-17},{"s":"\u00a070⁰E","f":0.375,"v":4.8e-17},{"s":"\u00a070⁰E","f":0.383333,"v":1.5e-18},{"s":"\u00a070⁰E","f":0.391667,"v":2.45e-17},{"s":"\u00a070⁰E","f":0.4,"v":1.4e-17},{"s":"\u00a070⁰E","f":0.408333,"v":6.5e-17},{"s":"\u00a070⁰E","f":0.416667,"v":1.2e-18},
      {"s":"\u00a070⁰E","f":0.425,"v":2.7e-17},{"s":"\u00a070⁰E","f":0.433333,"v":1.4e-17},{"s":"\u00a070⁰E","f":0.441667,"v":3.3e-17},{"s":"\u00a070⁰E","f":0.45,"v":4.7e-18},{"s":"\u00a070⁰E","f":0.458333,"v":2.9e-17},{"s":"\u00a070⁰E","f":0.466667,"v":1.4e-17},{"s":"\u00a070⁰E","f":0.475,"v":4.8e-17},{"s":"\u00a070⁰E","f":0.483333,"v":6.0e-18},{"s":"\u00a070⁰E","f":0.491667,"v":3.3e-17},{"s":"\u00a070⁰E","f":0.5,"v":1.26e-17},

      {"s":"\u00a060⁰E","f":0.008333,"v":1.03e-16},{"s":"\u00a060⁰E","f":0.016667,"v":1.66e-17},{"s":"\u00a060⁰E","f":0.025,"v":1.66e-17},{"s":"\u00a060⁰E","f":0.033333,"v":5.9e-17},{"s":"\u00a060⁰E","f":0.041667,"v":1.4e-17},{"s":"\u00a060⁰E","f":0.05,"v":6.3e-18},{"s":"\u00a060⁰E","f":0.058333,"v":7.0e-17},{"s":"\u00a060⁰E","f":0.066667,"v":3.3e-18},{"s":"\u00a060⁰E","f":0.075,"v":3.4e-17},{"s":"\u00a060⁰E","f":0.083333,"v":5.0e-19},
      {"s":"\u00a060⁰E","f":0.091667,"v":3.3e-18},{"s":"\u00a060⁰E","f":0.1,"v":1.4e-17},{"s":"\u00a060⁰E","f":0.108333,"v":4.5e-17},{"s":"\u00a060⁰E","f":0.116667,"v":1.01e-17},{"s":"\u00a060⁰E","f":0.125,"v":3.2e-17},{"s":"\u00a060⁰E","f":0.133333,"v":1.13e-17},{"s":"\u00a060⁰E","f":0.141667,"v":6.2e-18},{"s":"\u00a060⁰E","f":0.15,"v":1.49e-17},{"s":"\u00a060⁰E","f":0.158333,"v":2.9e-17},{"s":"\u00a060⁰E","f":0.166667,"v":3.7e-18},
      {"s":"\u00a060⁰E","f":0.175,"v":6.3e-17},{"s":"\u00a060⁰E","f":0.183333,"v":3.8e-17},{"s":"\u00a060⁰E","f":0.191667,"v":1.07e-17},{"s":"\u00a060⁰E","f":0.2,"v":9.8e-17},{"s":"\u00a060⁰E","f":0.208333,"v":1.57e-17},{"s":"\u00a060⁰E","f":0.216667,"v":4.8e-17},{"s":"\u00a060⁰E","f":0.225,"v":6.5e-18},{"s":"\u00a060⁰E","f":0.233333,"v":5.3e-17},{"s":"\u00a060⁰E","f":0.241667,"v":1.4e-17},{"s":"\u00a060⁰E","f":0.25,"v":8.3e-17},
      {"s":"\u00a060⁰E","f":0.258333,"v":2.0e-17},{"s":"\u00a060⁰E","f":0.266667,"v":2.1e-18},{"s":"\u00a060⁰E","f":0.275,"v":3.06e-17},{"s":"\u00a060⁰E","f":0.283333,"v":4.8e-17},{"s":"\u00a060⁰E","f":0.291667,"v":1.13e-17},{"s":"\u00a060⁰E","f":0.3,"v":9.2e-17},{"s":"\u00a060⁰E","f":0.308333,"v":5.3e-17},{"s":"\u00a060⁰E","f":0.316667,"v":6.5e-18},{"s":"\u00a060⁰E","f":0.325,"v":3.06e-17},{"s":"\u00a060⁰E","f":0.333333,"v":1.49e-17},
      {"s":"\u00a060⁰E","f":0.341667,"v":3.4e-17},{"s":"\u00a060⁰E","f":0.35,"v":8.6e-18},{"s":"\u00a060⁰E","f":0.358333,"v":4.3e-17},{"s":"\u00a060⁰E","f":0.366667,"v":1.2e-17},{"s":"\u00a060⁰E","f":0.375,"v":4.8e-17},{"s":"\u00a060⁰E","f":0.383333,"v":7.4e-17},{"s":"\u00a060⁰E","f":0.391667,"v":2.0e-17},{"s":"\u00a060⁰E","f":0.4,"v":3.65e-19},{"s":"\u00a060⁰E","f":0.408333,"v":2.45e-17},{"s":"\u00a060⁰E","f":0.416667,"v":3.3e-18},
      {"s":"\u00a060⁰E","f":0.425,"v":9.2e-17},{"s":"\u00a060⁰E","f":0.433333,"v":1.26e-17},{"s":"\u00a060⁰E","f":0.441667,"v":4.5e-17},{"s":"\u00a060⁰E","f":0.45,"v":2.4e-18},{"s":"\u00a060⁰E","f":0.458333,"v":3.4e-17},{"s":"\u00a060⁰E","f":0.466667,"v":1.2e-18},{"s":"\u00a060⁰E","f":0.475,"v":6.5e-17},{"s":"\u00a060⁰E","f":0.483333,"v":1.6e-17},{"s":"\u00a060⁰E","f":0.491667,"v":2.5e-18},{"s":"\u00a060⁰E","f":0.5,"v":1.0e-16}
    ]
  },
  "hconcat": [
    {
      "width": 503,
      "height": 416,
      "title": {"text": "Taux / Lat. 0,5°S", "baseline": "alphabetic", "offset": -18, "anchor": "middle", "dx": -10},
      "data": {"name": "left"},
      "layer": [
        {
          "mark": {"type": "line", "clip": true, "strokeWidth": 1.2},
          "encoding": {
            "x": {"field": "f", "type": "quantitative",
              "scale": {"type": "log", "domain": [0.005, 1], "nice": false},
              "axis": {"orient": "bottom",
                "values": [0.006,0.007,0.008,0.009,0.01,0.02,0.03,0.04,0.05,0.06,0.07,0.08,0.09,0.1,0.2,0.3,0.4,0.5,0.6,0.7,0.8,0.9,1],
                "labelExpr": "datum.value == 0.01 ? '10⁻²' : datum.value == 0.1 ? '10⁻¹' : datum.value == 1 ? '10⁰' : ''",
                "tickSize": {"condition": {"test": "datum.value == 0.01 || datum.value == 0.1 || datum.value == 1", "value": -9}, "value": -5},
                "labelPadding": 12,
                "title": "frequency (1/month)", "titleX": 251.5, "titleY": 48, "titleBaseline": "alphabetic", "titleAlign": "center"}},
            "y": {"field": "v", "type": "quantitative",
              "scale": {"type": "log", "domain": [1e-7, 1e-2], "nice": false},
              "axis": {"orient": "left",
                "values": [1e-7,2e-7,3e-7,4e-7,5e-7,6e-7,7e-7,8e-7,9e-7,1e-6,2e-6,3e-6,4e-6,5e-6,6e-6,7e-6,8e-6,9e-6,1e-5,2e-5,3e-5,4e-5,5e-5,6e-5,7e-5,8e-5,9e-5,1e-4,2e-4,3e-4,4e-4,5e-4,6e-4,7e-4,8e-4,9e-4,1e-3,2e-3,3e-3,4e-3,5e-3,6e-3,7e-3,8e-3,9e-3,1e-2],
                "labelExpr": "datum.value == 1e-2 ? '10⁻²' : datum.value == 1e-3 ? '10⁻³' : datum.value == 1e-4 ? '10⁻⁴' : datum.value == 1e-5 ? '10⁻⁵' : datum.value == 1e-6 ? '10⁻⁶' : datum.value == 1e-7 ? '10⁻⁷' : ''",
                "tickSize": {"condition": {"test": "indexof([1e-7,1e-6,1e-5,1e-4,1e-3,1e-2], datum.value) >= 0", "value": -9}, "value": -5},
                "labelPadding": 13,
                "title": "spectral density", "titleX": -46, "titleY": 208, "titleBaseline": "alphabetic", "titleAlign": "center", "titleAngle": -90}},
            "color": {"field": "s", "type": "nominal",
              "scale": {"domain": ["100⁰W", "fitted AR-1 process", "confidence level (95%)", "\u00a0100⁰E", "AR-1 (100⁰E)", "CL (100⁰E)"], "range": ["black", "black", "black", "red", "red", "red"]},
              "legend": {"orient": "none", "legendX": 6, "legendY": 256, "title": null, "values": ["100⁰W", "fitted AR-1 process", "confidence level (95%)", "\u00a0100⁰E"], "symbolType": "stroke", "symbolSize": 2209, "symbolStrokeWidth": 1.2, "clipHeight": 20, "rowPadding": 6, "labelFontSize": 18.5, "labelOffset": 10, "padding": 0, "labelLimit": 400}},
            "strokeDash": {"field": "s", "type": "nominal",
              "scale": {"domain": ["100⁰W", "fitted AR-1 process", "confidence level (95%)", "\u00a0100⁰E", "AR-1 (100⁰E)", "CL (100⁰E)"], "range": [[1, 0], [10, 5], [1.5, 1.5], [1, 0], [10, 5], [1.5, 1.5]]},
              "legend": {"orient": "none", "legendX": 6, "legendY": 256, "title": null, "values": ["100⁰W", "fitted AR-1 process", "confidence level (95%)", "\u00a0100⁰E"], "symbolType": "stroke", "symbolSize": 2209, "symbolStrokeWidth": 1.2, "clipHeight": 20, "rowPadding": 6, "labelFontSize": 18.5, "labelOffset": 10, "padding": 0, "labelLimit": 400}}
          }
        },
        {
          "mark": {"type": "point", "opacity": 0},
          "encoding": {
            "x": {"field": "f", "type": "quantitative",
              "scale": {"type": "log", "domain": [0.005, 1], "nice": false},
              "axis": {"orient": "top", "labels": false, "title": null,
                "values": [0.006,0.007,0.008,0.009,0.01,0.02,0.03,0.04,0.05,0.06,0.07,0.08,0.09,0.1,0.2,0.3,0.4,0.5,0.6,0.7,0.8,0.9,1],
                "tickSize": {"condition": {"test": "datum.value == 0.01 || datum.value == 0.1 || datum.value == 1", "value": -9}, "value": -5}}},
            "y": {"field": "v", "type": "quantitative",
              "scale": {"type": "log", "domain": [1e-7, 1e-2], "nice": false},
              "axis": {"orient": "right", "labels": false, "title": null,
                "values": [1e-7,2e-7,3e-7,4e-7,5e-7,6e-7,7e-7,8e-7,9e-7,1e-6,2e-6,3e-6,4e-6,5e-6,6e-6,7e-6,8e-6,9e-6,1e-5,2e-5,3e-5,4e-5,5e-5,6e-5,7e-5,8e-5,9e-5,1e-4,2e-4,3e-4,4e-4,5e-4,6e-4,7e-4,8e-4,9e-4,1e-3,2e-3,3e-3,4e-3,5e-3,6e-3,7e-3,8e-3,9e-3,1e-2],
                "tickSize": {"condition": {"test": "indexof([1e-7,1e-6,1e-5,1e-4,1e-3,1e-2], datum.value) >= 0", "value": -9}, "value": -5}}}
          }
        }
      ],
      "resolve": {"axis": {"x": "independent", "y": "independent"}}
    },
    {
      "width": 504,
      "height": 416,
      "title": {"text": "WSC / Lats. 12°S and 0,5°S", "baseline": "alphabetic", "offset": -18, "anchor": "middle", "dx": 5},
      "data": {"name": "right"},
      "layer": [
        {
          "mark": {"type": "line", "clip": true, "strokeWidth": 1.8},
          "encoding": {
            "x": {"field": "f", "type": "quantitative",
              "scale": {"type": "log", "domain": [0.005, 1], "nice": false},
              "axis": {"orient": "bottom", "domainColor": "#555",
                "values": [0.006,0.007,0.008,0.009,0.01,0.02,0.03,0.04,0.05,0.06,0.07,0.08,0.09,0.1,0.2,0.3,0.4,0.5,0.6,0.7,0.8,0.9,1],
                "labelExpr": "datum.value == 0.01 ? '10⁻²' : datum.value == 0.1 ? '10⁻¹' : datum.value == 1 ? '10⁰' : ''",
                "tickSize": {"condition": {"test": "datum.value == 0.01 || datum.value == 0.1 || datum.value == 1", "value": -9}, "value": -5},
                "labelPadding": 12,
                "title": "frequency (1/month)", "titleX": 252, "titleY": 48, "titleBaseline": "alphabetic", "titleAlign": "center"}},
            "y": {"field": "v", "type": "quantitative",
              "scale": {"type": "log", "domain": [1e-20, 1e-14], "nice": false},
              "axis": {"orient": "left", "domainColor": "#555",
                "values": [1e-20,2e-20,3e-20,4e-20,5e-20,6e-20,7e-20,8e-20,9e-20,1e-19,2e-19,3e-19,4e-19,5e-19,6e-19,7e-19,8e-19,9e-19,1e-18,2e-18,3e-18,4e-18,5e-18,6e-18,7e-18,8e-18,9e-18,1e-17,2e-17,3e-17,4e-17,5e-17,6e-17,7e-17,8e-17,9e-17,1e-16,2e-16,3e-16,4e-16,5e-16,6e-16,7e-16,8e-16,9e-16,1e-15,2e-15,3e-15,4e-15,5e-15,6e-15,7e-15,8e-15,9e-15,1e-14],
                "labelExpr": "datum.value == 1e-14 ? '10⁻¹⁴' : datum.value == 1e-16 ? '10⁻¹⁶' : datum.value == 1e-18 ? '10⁻¹⁸' : datum.value == 1e-20 ? '10⁻²⁰' : ''",
                "tickSize": {"condition": {"test": "indexof([1e-20,1e-19,1e-18,1e-17,1e-16,1e-15,1e-14], datum.value) >= 0", "value": -9}, "value": -5},
                "labelPadding": 11,
                "title": "spectral density", "titleX": -47, "titleY": 208, "titleBaseline": "alphabetic", "titleAlign": "center", "titleAngle": -90}},
            "color": {"field": "s", "type": "nominal",
              "scale": {"domain": ["100⁰E", "\u00a090⁰E", "\u00a080⁰E", "\u00a070⁰E", "\u00a060⁰E", "Lat. = 0.5⁰S, 100⁰E"], "range": ["black", "#ff0000", "#00ee00", "#0000ff", "#8f00d8", "#ff8c00"]},
              "legend": {"orient": "none", "legendX": 35, "legendY": 227, "title": null, "symbolType": "stroke", "symbolSize": 2401, "symbolStrokeWidth": 1.8, "clipHeight": 20, "rowPadding": 8, "labelFontSize": 18.5, "labelOffset": 9, "padding": 0, "labelLimit": 400}}
          }
        },
        {
          "mark": {"type": "point", "opacity": 0},
          "encoding": {
            "x": {"field": "f", "type": "quantitative",
              "scale": {"type": "log", "domain": [0.005, 1], "nice": false},
              "axis": {"orient": "top", "labels": false, "title": null,
                "values": [0.006,0.007,0.008,0.009,0.01,0.02,0.03,0.04,0.05,0.06,0.07,0.08,0.09,0.1,0.2,0.3,0.4,0.5,0.6,0.7,0.8,0.9,1],
                "tickSize": {"condition": {"test": "datum.value == 0.01 || datum.value == 0.1 || datum.value == 1", "value": -9}, "value": -5}}},
            "y": {"field": "v", "type": "quantitative",
              "scale": {"type": "log", "domain": [1e-20, 1e-14], "nice": false},
              "axis": {"orient": "right", "labels": false, "title": null,
                "values": [1e-20,2e-20,3e-20,4e-20,5e-20,6e-20,7e-20,8e-20,9e-20,1e-19,2e-19,3e-19,4e-19,5e-19,6e-19,7e-19,8e-19,9e-19,1e-18,2e-18,3e-18,4e-18,5e-18,6e-18,7e-18,8e-18,9e-18,1e-17,2e-17,3e-17,4e-17,5e-17,6e-17,7e-17,8e-17,9e-17,1e-16,2e-16,3e-16,4e-16,5e-16,6e-16,7e-16,8e-16,9e-16,1e-15,2e-15,3e-15,4e-15,5e-15,6e-15,7e-15,8e-15,9e-15,1e-14],
                "tickSize": {"condition": {"test": "indexof([1e-20,1e-19,1e-18,1e-17,1e-16,1e-15,1e-14], datum.value) >= 0", "value": -9}, "value": -5}}}
          }
        }
      ],
      "resolve": {"axis": {"x": "independent", "y": "independent"}}
    }
  ],
  "resolve": {"scale": {"color": "independent", "strokeDash": "independent"}, "legend": {"color": "independent", "strokeDash": "independent"}}
}
